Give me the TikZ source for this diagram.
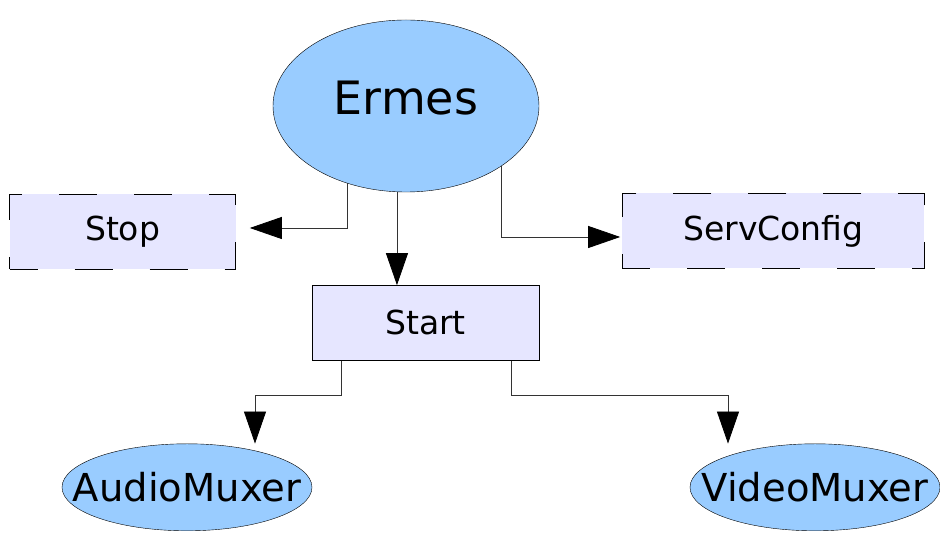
\documentclass[tikz,border=0pt]{standalone}
\usepackage{fontspec}
\setmainfont{DejaVu Sans}
\usetikzlibrary{arrows.meta,positioning,shapes.geometric}

\definecolor{boxfill}{HTML}{E6E6FF}
\definecolor{ballfill}{HTML}{99CCFF}

\begin{document}
\begin{tikzpicture}[
  x=1pt, y=1pt,
  >={Triangle[length=32pt,width=22pt,color=black]},
  core/.style={draw, ellipse, fill=ballfill, inner sep=0pt, text depth=16pt, minimum width=266pt, minimum height=172pt, font=\fontsize{46}{52}\selectfont},
  cmd/.style={draw, fill=boxfill, inner sep=0pt, minimum height=75pt, font=\fontsize{33}{38}\selectfont},
  cmdopt/.style={cmd, dash pattern=on 38pt off 37pt, dash phase=10pt},
  muxer/.style={draw, ellipse, fill=ballfill, inner xsep=-35pt, inner ysep=0pt, minimum width=250pt, minimum height=87pt, font=\fontsize{38.5}{44}\selectfont},
  link/.style={->, line width=0.8pt, draw=black!80}
]
\useasboundingbox (0,0) rectangle (940,535);

\node[core] (ermes) at (406,429) {Ermes};

\node[cmdopt, minimum width=226pt, left=37pt of ermes, yshift=-125.5pt] (stop) {Stop};
\node[cmdopt, minimum width=302pt, right=83pt of ermes, yshift=-125pt] (servconfig) {ServConfig};
\node[cmd, minimum width=227pt, below=93pt of ermes, xshift=19.5pt] (start) {Start};

\node[muxer, below=83pt of start, xshift=-238.5pt] (audio) {AudioMuxer};
\node[muxer, below=83pt of start, xshift=389.5pt] (video) {VideoMuxer};

% commands coming out of the daemon
\draw[link, shorten >=14pt] (ermes.233) |- ([yshift=3.5pt]stop.east);
\draw[link] (ermes.-96.6) -- (ermes.-96.6 |- start.north);
\draw[link, shorten >=2pt] (ermes.-32.3) |- ([yshift=-6pt]servconfig.west);

% start spawns both muxers
\draw[link] ([xshift=30pt]start.south west) -- ++(0,-35) -| ([xshift=68pt]audio.north);
\draw[link] ([xshift=-28pt]start.south east) -- ++(0,-35) -| ([xshift=-87pt]video.north);

\end{tikzpicture}
\end{document}
